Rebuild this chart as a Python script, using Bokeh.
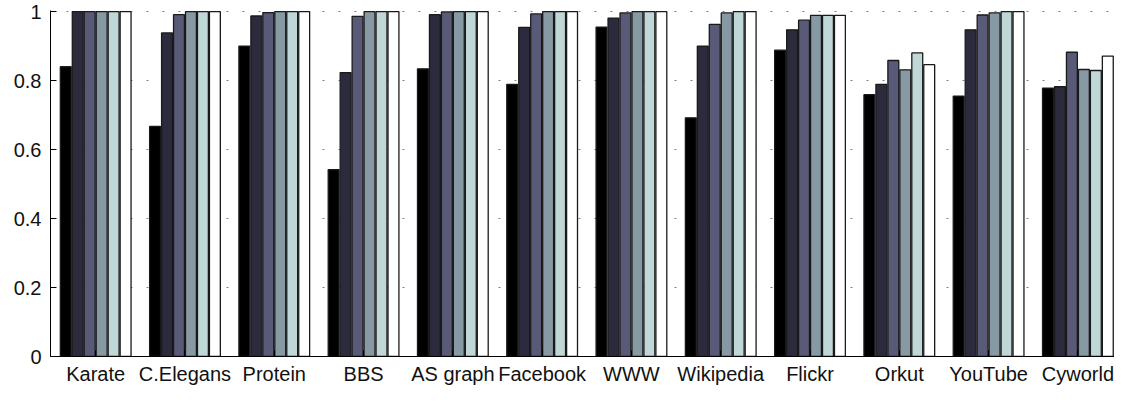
from bokeh.plotting import figure
from bokeh.models import Range1d, FixedTicker, CustomJSTickFormatter, ColumnDataSource
from bokeh.embed import file_html
from bokeh.resources import INLINE

categories = ["Karate", "C.Elegans", "Protein", "BBS", "AS graph", "Facebook",
              "WWW", "Wikipedia", "Flickr", "Orkut", "YouTube", "Cyworld"]
s1 = [0.840, 0.667, 0.900, 0.542, 0.834, 0.789, 0.955, 0.692, 0.888, 0.759, 0.755, 0.778]
s2 = [1.000, 0.938, 0.987, 0.823, 0.991, 0.954, 0.981, 0.900, 0.947, 0.789, 0.947, 0.782]
s3 = [1.000, 0.991, 0.997, 0.986, 0.999, 0.993, 0.996, 0.963, 0.975, 0.858, 0.990, 0.882]
s4 = [1.000, 1.000, 1.000, 1.000, 1.000, 1.000, 1.000, 0.996, 0.989, 0.831, 0.996, 0.832]
s5 = [1.000, 1.000, 1.000, 1.000, 1.000, 1.000, 1.000, 1.000, 0.989, 0.880, 1.000, 0.829]
s6 = [1.000, 1.000, 1.000, 1.000, 1.000, 1.000, 1.000, 1.000, 0.989, 0.846, 1.000, 0.871]
series = [s1, s2, s3, s4, s5, s6]
colors = ["#000000", "#2c2b3d", "#585a78", "#879aa4", "#bfd7d6", "#ffffff"]
y_ticks = [0, 0.2, 0.4, 0.6, 0.8, 1.0]

FONT = "Liberation Sans"

p = figure(width=1114, height=387, output_backend="svg", toolbar_location=None,
           x_range=Range1d(0.494, 12.41), y_range=Range1d(0, 1.003),
           min_border_left=50, min_border_right=0, min_border_top=10, min_border_bottom=26)
p.outline_line_color = None
p.background_fill_color = "white"

step = 0.134
bw = 0.122
for j, (vals, c) in enumerate(zip(series, colors)):
    xs = [i + 1 + (j - 2.5) * step for i in range(len(categories))]
    src = ColumnDataSource(dict(x=xs, top=vals))
    p.vbar(x="x", top="top", bottom=0, width=bw, source=src,
           fill_color=c, line_color="#1a1a1a", line_width=1.3)

p.xgrid.visible = False
p.ygrid.ticker = FixedTicker(ticks=y_ticks)
p.ygrid.grid_line_color = "#808080"
p.ygrid.grid_line_dash = "2 14"
p.ygrid.grid_line_width = 1

p.xaxis.ticker = FixedTicker(ticks=list(range(1, len(categories) + 1)))
p.xaxis.formatter = CustomJSTickFormatter(args=dict(cats=categories),
                                          code="return cats[Math.round(tick) - 1];")
p.yaxis.ticker = FixedTicker(ticks=y_ticks)
p.yaxis.formatter = CustomJSTickFormatter(code="return String(+tick.toFixed(1));")

for ax in (p.xaxis, p.yaxis):
    ax.major_tick_in = 6
    ax.major_tick_out = 0
    ax.minor_tick_line_color = None
    ax.axis_line_color = "black"
    ax.axis_line_width = 1
    ax.major_tick_line_color = "black"
    ax.major_label_text_font = FONT
    ax.major_label_text_font_size = "20px"
    ax.major_label_text_color = "#111111"
p.xaxis.major_label_standoff = 6
p.yaxis.major_label_standoff = 9

open("out.html", "w").write(file_html(p, INLINE))
